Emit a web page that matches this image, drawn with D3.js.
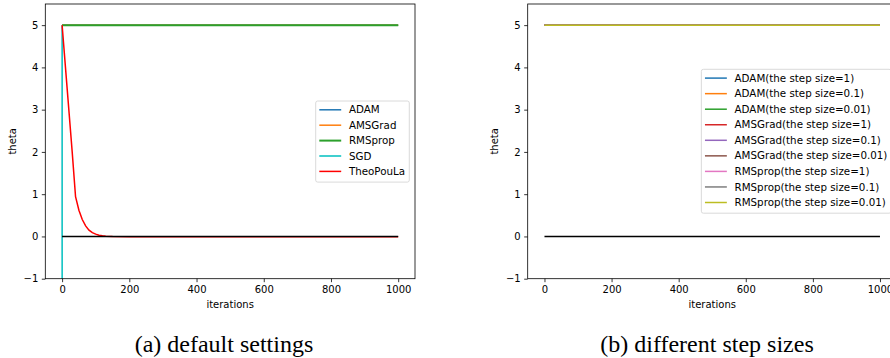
<!DOCTYPE html>
<html><head><meta charset="utf-8">
<script src="https://cdn.jsdelivr.net/npm/d3@7"></script>
<style>body{margin:0;background:#fff}svg{display:block}</style>
</head><body><svg id="c" width="890" height="358"></svg>
<script>
// ---- data ----
const xTicks = [0, 200, 400, 600, 800, 1000];
const yTicks = [-1, 0, 1, 2, 3, 4, 5];
const optimum = [[0, 0], [1000, 0]];

const seriesA = ["ADAM", "AMSGrad", "RMSprop", "SGD", "TheoPouLa"];
const colorsA = ["#1f77b4", "#ff7f0e", "#2ca02c", "#00bfbf", "#ff0000"];
const adamA = [[0, 5], [1000, 5]];
const amsgradA = [[0, 5], [1000, 5]];
const rmspropA = [[0, 5], [1000, 5]];
const sgdA = [[0, 5], [1, -50]];
const theopoulaA = [[0, 5], [10, 4.0], [20, 3.0], [30, 2.0], [40, 0.94], [50, 0.62], [60, 0.4], [70, 0.25],
  [80, 0.15], [90, 0.09], [100, 0.055], [110, 0.03], [120, 0.015], [130, 0.006], [150, -0.004],
  [200, -0.01], [1000, -0.01]];
const valuesA = [adamA, amsgradA, rmspropA, sgdA, theopoulaA];

const seriesB = ["ADAM(the step size=1)", "ADAM(the step size=0.1)", "ADAM(the step size=0.01)",
  "AMSGrad(the step size=1)", "AMSGrad(the step size=0.1)", "AMSGrad(the step size=0.01)",
  "RMSprop(the step size=1)", "RMSprop(the step size=0.1)", "RMSprop(the step size=0.01)"];
const colorsB = ["#1f77b4", "#ff7f0e", "#2ca02c", "#d62728", "#9467bd", "#8c564b", "#e377c2", "#7f7f7f", "#bcbd22"];
const valuesB = [
  [[0, 5], [1000, 5]], [[0, 5], [1000, 5]], [[0, 5], [1000, 5]],
  [[0, 5], [1000, 5]], [[0, 5], [1000, 5]], [[0, 5], [1000, 5]],
  [[0, 5], [1000, 5]], [[0, 5], [1000, 5]], [[0, 5], [1000, 5]]];

const captions = ["(a) default settings", "(b) different step sizes"];

// ---- drawing ----
const svg = d3.select("#c");
const FONT = "DejaVu Sans, sans-serif";

function panel(cfg) {
  const top = 4, bottom = 278.7;
  const x = d3.scaleLinear().domain([-50, 1050]).range([cfg.left, cfg.right]);
  const y = d3.scaleLinear().domain([-1, 5.5]).range([bottom, top]);
  const g = svg.append("g");
  const cid = "clip" + cfg.id;
  svg.append("clipPath").attr("id", cid).append("rect")
    .attr("x", cfg.left).attr("y", top).attr("width", cfg.right - cfg.left).attr("height", bottom - top);

  const line = d3.line().x(d => x(d[0])).y(d => y(d[1]));
  const lines = g.append("g").attr("clip-path", `url(#${cid})`);
  cfg.values.forEach((v, i) => {
    lines.append("path").attr("d", line(v)).attr("fill", "none")
      .attr("stroke", cfg.colors[i]).attr("stroke-width", cfg.widths ? cfg.widths[i] : 1.5);
  });
  lines.append("path").attr("d", line(optimum)).attr("fill", "none")
    .attr("stroke", "#000").attr("stroke-width", 1.5);

  // axes
  const xa = g.append("g").attr("transform", `translate(0,${bottom})`)
    .call(d3.axisBottom(x).tickValues(xTicks).tickSize(3.5).tickPadding(3.5).tickSizeOuter(0)
      .tickFormat(d3.format("d")));
  const ya = g.append("g").attr("transform", `translate(${cfg.left},0)`)
    .call(d3.axisLeft(y).tickValues(yTicks).tickSize(3.5).tickPadding(3.5).tickSizeOuter(0)
      .tickFormat(d => d < 0 ? "\u2212" + Math.abs(d) : d));
  [xa, ya].forEach(a => {
    a.select(".domain").remove();
    a.selectAll("text").attr("font-family", FONT).attr("font-size", 10).attr("fill", "#000");
    a.selectAll("line").attr("stroke", "#000").attr("stroke-width", 0.8);
  });
  g.append("rect").attr("x", cfg.left).attr("y", top).attr("width", cfg.right - cfg.left)
    .attr("height", bottom - top).attr("fill", "none").attr("stroke", "#000").attr("stroke-width", 0.8);

  g.append("text").attr("x", (cfg.left + cfg.right) / 2).attr("y", 308).attr("text-anchor", "middle")
    .attr("font-family", FONT).attr("font-size", 10).text("iterations");
  g.append("text").attr("transform", `translate(${cfg.left - 29.5},${(top + bottom) / 2}) rotate(-90)`)
    .attr("text-anchor", "middle").attr("font-family", FONT).attr("font-size", 10).text("theta");

  // legend
  const n = cfg.names.length, sp = cfg.spacing;
  const bw = cfg.legendW, bh = 9 + (n - 1) * sp + 10.5;
  const bx = cfg.right - 5.7 - bw, by = cfg.legendTop;
  const lg = g.append("g");
  lg.append("rect").attr("x", bx).attr("y", by).attr("width", bw).attr("height", bh).attr("rx", 2)
    .attr("fill", "#fff").attr("fill-opacity", 0.8).attr("stroke", "#d0d0d0").attr("stroke-width", 0.8);
  cfg.names.forEach((nm, i) => {
    const yy = by + 8.8 + i * sp;
    lg.append("line").attr("x1", bx + 3.6).attr("x2", bx + 25.5).attr("y1", yy).attr("y2", yy)
      .attr("stroke", cfg.colors[i]).attr("stroke-width", cfg.widths ? cfg.widths[i] : 1.5);
    lg.append("text").attr("x", bx + 33.2).attr("y", yy).attr("dy", "0.35em")
      .attr("font-family", FONT).attr("font-size", 10.3).text(nm);
  });

  svg.append("text").attr("x", cfg.capX).attr("y", 351.5).attr("text-anchor", "middle")
    .attr("font-family", "Liberation Serif, Times New Roman, serif").attr("font-size", 24).text(cfg.caption);
}

panel({id: "a", left: 45.3, right: 415, names: seriesA, colors: colorsA, values: valuesA,
  widths: [1.5, 1.5, 2, 1.5, 1.5], spacing: 15.4, legendW: 93.6, legendTop: 101, caption: captions[0], capX: 224});
panel({id: "b", left: 527.7, right: 896.75, names: seriesB, colors: colorsB, values: valuesB,
  spacing: 15.55, legendW: 189.7, legendTop: 69.3, caption: captions[1], capX: 707});
</script></body></html>
